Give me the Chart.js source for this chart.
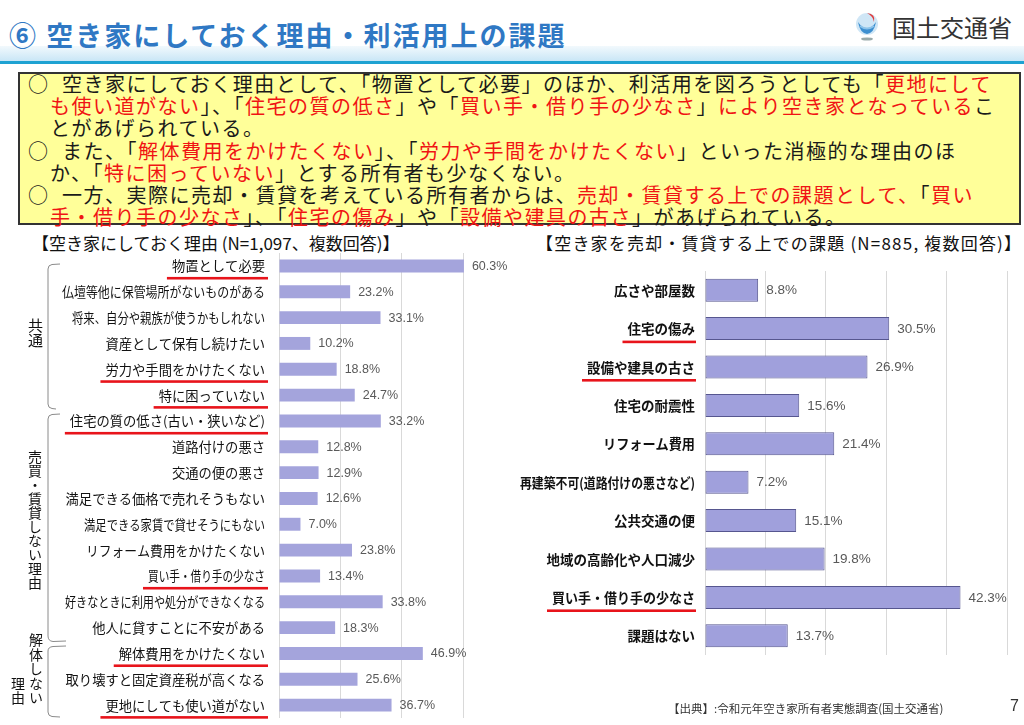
<!DOCTYPE html>
<html><head><meta charset="utf-8">
<script src="https://cdn.jsdelivr.net/npm/chart.js@4/dist/chart.umd.min.js"></script>
<style>
body{margin:0;width:1024px;height:725px;position:relative;background:#fff;overflow:hidden;font-family:"Noto Sans CJK JP","Noto Sans",sans-serif;color:#111;}
.abs{position:absolute;white-space:nowrap;}
.box{position:absolute;left:18px;top:72px;width:1003px;height:153px;box-sizing:border-box;border:2px solid #333;background:#ffff99;}
.ln{position:absolute;white-space:nowrap;font-size:20px;letter-spacing:1.5px;line-height:22px;color:#1a1a1a;}
.ln r{color:#f01414;}
.vt{position:absolute;writing-mode:vertical-rl;font-size:14px;line-height:14px;color:#111;}
canvas{position:absolute;}
</style></head>
<body>
<div class="abs" style="left:0;top:46px;width:1024px;height:15px;background:linear-gradient(#f2f9fd,#c9e6f6);"></div>
<div class="abs" style="left:0;top:61px;width:1024px;height:3px;background:#1ea2d2;"></div>
<div class="abs" style="left:9px;top:19px;font-size:27px;line-height:32px;font-weight:bold;letter-spacing:2px;color:#2f78c4;">⑥ 空き家にしておく理由・利活用上の課題</div>
<svg class="abs" style="left:852px;top:9px" width="30" height="34" viewBox="0 0 30 34">
  <circle cx="15" cy="15" r="11" fill="#cfe6f6"/>
  <path d="M6 13 Q15 26 24 13 Q22 24 15 25 Q8 24 6 13Z" fill="#3d8fd0"/>
  <path d="M8 17 Q15 22 22 17" stroke="#8cc3ea" stroke-width="2" fill="none"/>
  <path d="M15 4 Q24 5 22 13 Q21 7 15 4Z" fill="#e23a3a"/>
  <ellipse cx="15" cy="30" rx="6" ry="1.6" fill="#9aa"/>
</svg>
<div class="abs" style="left:892px;top:12px;font-size:24px;line-height:30px;color:#333;">国土交通省</div>

<div class="box"></div>
<div class="ln" style="left:28px;top:73px;">○</div>
<div class="ln" style="left:62px;top:73px;">空き家にしておく理由として、「物置として必要」のほか、利活用を図ろうとしても「<r>更地にして</r></div>
<div class="ln" style="left:50px;top:95px;"><r>も使い道がない</r>」、「<r>住宅の質の低さ</r>」や「<r>買い手・借り手の少なさ</r>」<r>により空き家となっている</r>こ</div>
<div class="ln" style="left:50px;top:117px;">とがあげられている。</div>
<div class="ln" style="left:28px;top:140px;">○</div>
<div class="ln" style="left:62px;top:140px;">また、「<r>解体費用をかけたくない</r>」、「<r>労力や手間をかけたくない</r>」といった消極的な理由のほ</div>
<div class="ln" style="left:50px;top:162px;">か、「<r>特に困っていない</r>」とする所有者も少なくない。</div>
<div class="ln" style="left:28px;top:184px;">○</div>
<div class="ln" style="left:62px;top:184px;">一方、実際に売却・賃貸を考えている所有者からは、<r>売却・賃貸する上での課題として、</r>「<r>買い</r></div>
<div class="ln" style="left:50px;top:206px;"><r>手・借り手の少なさ</r>」、「<r>住宅の傷み</r>」や「<r>設備や建具の古さ</r>」があげられている。</div>

<div class="abs" style="left:32px;top:231px;font-size:17px;line-height:24px;">【空き家にしておく理由 (N=1,097、複数回答)】</div>
<div class="abs" style="left:536px;top:231px;font-size:17px;line-height:24px;letter-spacing:1.2px;">【空き家を売却・賃貸する上での課題 (N=885, 複数回答)】</div>

<canvas id="leftChart" width="520" height="476" style="left:0;top:248px;"></canvas>
<canvas id="rightChart" width="504" height="476" style="left:520px;top:248px;"></canvas>

<svg class="abs" style="left:0;top:0;pointer-events:none" width="80" height="725">
  <g stroke="#8a8a8a" stroke-width="1" fill="none">
    <path d="M60 264 L52 264.5 Q48 265 48 269 L48 404 Q48 408 52 408.5 L56 409"/>
    <path d="M60 414 L52 414.5 Q48 415 48 419 L48 636 Q48 641 53 641.5 L66 641"/>
    <path d="M66 646 L53 646.5 Q48 647 48 651 L48 712 Q48 716 52 716.5 L60 717"/>
  </g>
</svg>
<div class="vt" style="left:28px;top:318px;font-size:15px;line-height:15px;">共通</div>
<div class="vt" style="left:28px;top:450px;">売買・賃貸しない理由</div>
<div class="vt" style="left:29px;top:633px;letter-spacing:0.5px;">解体しない</div>
<div class="vt" style="left:11px;top:677px;">理由</div>

<div class="abs" style="left:668px;top:700px;font-size:11.5px;line-height:16px;color:#333;">【出典】:令和元年空き家所有者実態調査(国土交通省)</div>
<div class="abs" style="left:1010px;top:697px;font-size:16px;line-height:18px;color:#333;font-family:'Liberation Sans',sans-serif;">7</div>

<script>
// ---- data ----
const leftCategories = [
  "物置として必要",
  "仏壇等他に保管場所がないものがある",
  "将来、自分や親族が使うかもしれない",
  "資産として保有し続けたい",
  "労力や手間をかけたくない",
  "特に困っていない",
  "住宅の質の低さ(古い・狭いなど)",
  "道路付けの悪さ",
  "交通の便の悪さ",
  "満足できる価格で売れそうもない",
  "満足できる家賃で貸せそうにもない",
  "リフォーム費用をかけたくない",
  "買い手・借り手の少なさ",
  "好きなときに利用や処分ができなくなる",
  "他人に貸すことに不安がある",
  "解体費用をかけたくない",
  "取り壊すと固定資産税が高くなる",
  "更地にしても使い道がない"
];
const leftValues = [60.3, 23.2, 33.1, 10.2, 18.8, 24.7, 33.2, 12.8, 12.9, 12.6, 7.0, 23.8, 13.4, 33.8, 18.3, 46.9, 25.6, 36.7];
const leftUnderlined = [0, 4, 5, 6, 12, 15, 17];
const leftTickMax = 60;
const leftTickStep = 20;

const rightCategories = [
  "広さや部屋数",
  "住宅の傷み",
  "設備や建具の古さ",
  "住宅の耐震性",
  "リフォーム費用",
  "再建築不可(道路付けの悪さなど)",
  "公共交通の便",
  "地域の高齢化や人口減少",
  "買い手・借り手の少なさ",
  "課題はない"
];
const rightValues = [8.8, 30.5, 26.9, 15.6, 21.4, 7.2, 15.1, 19.8, 42.3, 13.7];
const rightUnderlined = [1, 2, 8];
const rightTickMax = 50;
const rightTickStep = 10;

// ---- style (label fitting widths, px) ----
const leftLabelFit = [95, 203, 193, 160, 161, 108, 202, 97, 97, 200, 181, 179, 117, 200, 177, 147, 200, 161];
const rightLabelFit = [84, 72, 113, 86, 92, 175, 86, 155, 143, 70];

function makePlugin(o) {
  return {
    id: 'customText',
    afterDatasetsDraw(chart) {
      const ctx = chart.ctx, ys = chart.scales.y, ca = chart.chartArea;
      ctx.save();
      ctx.textBaseline = 'middle';
      ctx.font = o.catFont;
      chart.data.labels.forEach((lab, i) => {
        const y = ys.getPixelForTick(i);
        const xr = ca.left - o.catPad;
        const nat = ctx.measureText(lab).width;
        const w = Math.min(nat, o.fit[i]);
        ctx.fillStyle = '#111';
        ctx.textAlign = 'right';
        ctx.fillText(lab, xr, y + 0.5, o.fit[i]);
        if (o.under.includes(i)) {
          ctx.fillStyle = '#e8141b';
          ctx.fillRect(xr - w - o.ulL, y + o.ulY, w + o.ulL + o.ulR, 2.6);
        }
      });
      ctx.font = o.valFont;
      ctx.fillStyle = '#595959';
      ctx.textAlign = 'left';
      const meta = chart.getDatasetMeta(0);
      const vals = chart.data.datasets[0].data;
      meta.data.forEach((bar, i) => {
        ctx.fillText(vals[i].toFixed(1) + '%', bar.x + o.valPad, bar.y + 0.5);
      });
      ctx.restore();
    }
  };
}

function makeChart(id, labels, values, opt) {
  return new Chart(document.getElementById(id), {
    type: 'bar',
    data: {
      labels: labels,
      datasets: [{
        data: values,
        backgroundColor: opt.fill,
        borderColor: opt.border,
        borderWidth: opt.borderWidth,
        borderSkipped: false,
        barPercentage: opt.barPct,
        categoryPercentage: 1,
        clip: false
      }]
    },
    options: {
      indexAxis: 'y',
      responsive: false,
      animation: false,
      events: [],
      layout: { padding: opt.padding },
      plugins: { legend: { display: false }, tooltip: { enabled: false } },
      scales: {
        x: {
          min: 0, max: opt.max,
          ticks: { display: false, stepSize: opt.step },
          grid: { color: '#d9d9d9', lineWidth: 1, drawTicks: false },
          border: { display: false },
          afterFit(s) { s.height = 0; }
        },
        y: {
          ticks: { display: false },
          grid: { display: false, drawTicks: false },
          border: { display: false },
          afterFit(s) { s.width = opt.yWidth; }
        }
      }
    },
    plugins: [makePlugin(opt.text)]
  });
}

makeChart('leftChart', leftCategories, leftValues, {
  fill: '#a4a4dc', border: '#a4a4dc', borderWidth: 0, barPct: 0.5,
  max: leftTickMax, step: leftTickStep, yWidth: 279,
  padding: { top: 5, bottom: 6, left: 0, right: 57 },
  text: { catFont: '13.3px "Noto Sans CJK JP"', catPad: 14, fit: leftLabelFit, under: leftUnderlined,
          ulL: 5, ulR: 3, ulY: 11, valFont: '12.5px "Liberation Sans"', valPad: 8 }
});

makeChart('rightChart', rightCategories, rightValues, {
  fill: '#a0a0dc', border: '#56568f', borderWidth: 1, barPct: 0.6,
  max: rightTickMax, step: rightTickStep, yWidth: 185,
  padding: { top: 23, bottom: 69, left: 0, right: 17 },
  text: { catFont: 'bold 13.5px "Noto Sans CJK JP"', catPad: 10, fit: rightLabelFit, under: rightUnderlined,
          ulL: 5, ulR: 1, ulY: 12, valFont: '13.5px "Liberation Sans"', valPad: 8 }
});
</script>
</body></html>
